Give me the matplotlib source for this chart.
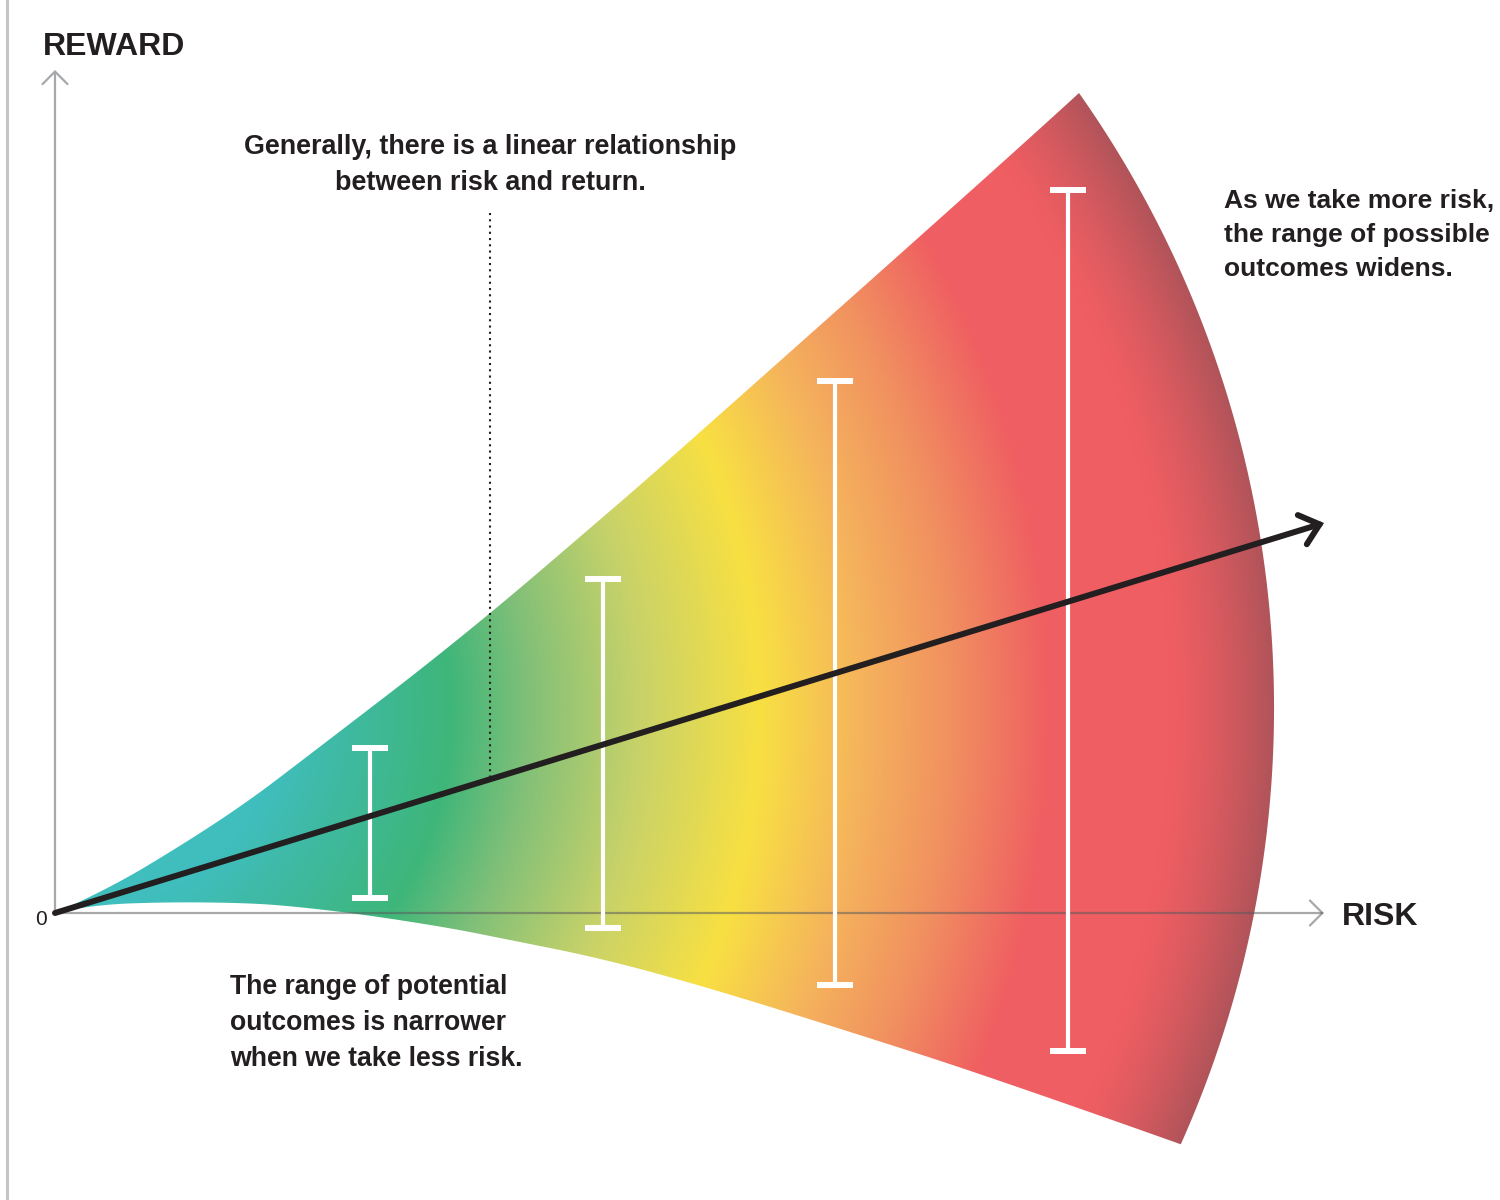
import numpy as np
import matplotlib
matplotlib.use("Agg")
import matplotlib.pyplot as plt
from matplotlib.patches import Polygon

# -------------------------------
# Data (risk / reward units)
# -------------------------------

# upper and lower edge of the fan of possible outcomes
upper_x = [0, 0.52, 1.35, 1.95, 2.45, 4.08, 5.68, 6.25, 9.62, 10.24]
upper_y = [0, 0.23, 0.73, 1.13, 1.51, 2.76, 4.13, 4.63, 7.63, 8.20]
lower_x = [0, 0.35, 1.12, 1.95, 2.45, 3.12, 3.95, 4.45, 5.45, 6.51, 7.80, 9.45, 11.25]
lower_y = [0, 0.08, 0.11, 0.10, 0.06, -0.02, -0.15, -0.25, -0.45, -0.74, -1.14, -1.67, -2.31]

# outer edge of the fan is an arc
arc_center = (1.52, 2.05)

# range bars
bar_x = [3.15, 5.48, 7.80, 10.13]
bar_low = [0.15, -0.15, -0.72, -1.38]
bar_high = [1.65, 3.34, 5.32, 7.23]

# linear risk / return line
trend_x = [0, 12.69]
trend_y = [0, 3.90]

# annotation pointer
note_x = 4.35
note_top = 7.00

axis_x_end = 12.69
axis_y_end = 8.43

# colour stops along the gradient (distance from gradient centre)
grad_center = (0.25, 2.03)
stop_d = [2.0, 2.6, 3.7, 4.5, 5.6, 6.8, 7.8, 8.7, 9.7, 13.0]
stop_rgb = [(64, 190, 190), (63, 186, 165), (62, 182, 122), (130, 192, 120),
            (200, 210, 105), (248, 224, 66), (245, 180, 92), (241, 145, 96),
            (239, 94, 98), (239, 94, 98)]
edge_rgb = (176, 84, 90)

TEXT = "#231f20"
GREY = "#a7a8ac"


def smooth(xs, ys, n=30):
    # quadratic B-spline through the midpoints
    p = np.column_stack([xs, ys]).astype(float)
    knots = [p[0]] + [(p[i] + p[i + 1]) / 2 for i in range(1, len(p) - 2)] + [p[-1]]
    t = np.linspace(0, 1, n)[:, None]
    out = []
    for i in range(1, len(p) - 1):
        a, c, b = knots[i - 1], p[i], knots[i]
        seg = (1 - t) ** 2 * a + 2 * (1 - t) * t * c + t ** 2 * b
        out.append(seg if i == 1 else seg[1:])
    return np.vstack(out)


# -------------------------------
# Figure
# -------------------------------

fig = plt.figure(figsize=(15, 12), dpi=100)
ax = fig.add_axes([0, 0, 1, 1])
ax.set_xlim(-0.55, 14.45)
ax.set_ylim(-2.87, 9.13)
ax.axis("off")

# fan outline
up = smooth(upper_x, upper_y)
lo = smooth(lower_x, lower_y)
cx, cy = arc_center
radius = np.hypot(up[-1, 0] - cx, up[-1, 1] - cy)
a0 = np.arctan2(up[-1, 1] - cy, up[-1, 0] - cx)
a1 = np.arctan2(lo[-1, 1] - cy, lo[-1, 0] - cx)
ang = np.linspace(a0, a1, 160)
arc = np.column_stack([cx + radius * np.cos(ang), cy + radius * np.sin(ang)])
outline = np.vstack([up, arc, lo[::-1]])
fan = Polygon(outline, closed=True, facecolor="none", edgecolor="none")
ax.add_patch(fan)

# gradient fill
gx = np.linspace(-0.1, 12.4, 1250)
gy = np.linspace(-2.5, 8.4, 1090)
X, Y = np.meshgrid(gx, gy)
d = np.hypot(X - grad_center[0], Y - grad_center[1])
stops = np.array(stop_rgb, dtype=float)
rgb = np.dstack([np.interp(d, stop_d, stops[:, k]) for k in range(3)])
edge_dist = radius - np.hypot(X - cx, Y - cy)
t = np.clip(1 - edge_dist / 1.05, 0, 1) ** 1.4
rgb = rgb * (1 - t[..., None]) + np.array(edge_rgb) * t[..., None]
img = ax.imshow(np.clip(rgb / 255, 0, 1), extent=[gx[0], gx[-1], gy[0], gy[-1]],
                origin="lower", interpolation="bilinear", aspect="auto", zorder=1)
img.set_clip_path(fan)

# page border on the left
ax.axvline(-0.48, color="#c5c5c9", lw=2.2, zorder=0)

# axes
ax.annotate("", xy=(axis_x_end, 0), xytext=(0, 0),
            arrowprops=dict(arrowstyle="->,head_length=0.45,head_width=0.45",
                            color="#59595d", alpha=0.52, lw=1.6,
                            mutation_scale=20, shrinkA=0, shrinkB=0),
            zorder=2)
ax.annotate("", xy=(0, axis_y_end), xytext=(0, 0),
            arrowprops=dict(arrowstyle="->,head_length=0.45,head_width=0.45",
                            color=GREY, lw=1.6, mutation_scale=20,
                            shrinkA=0, shrinkB=0),
            zorder=2)

# range bars
bar_x = np.array(bar_x)
bar_low = np.array(bar_low)
bar_high = np.array(bar_high)
mid = (bar_low + bar_high) / 2
half = (bar_high - bar_low) / 2
ax.errorbar(bar_x, mid, yerr=half, fmt="none", ecolor="white",
            elinewidth=3.0, capsize=13, capthick=4.3, zorder=3)

# dotted pointer
note_bottom = np.interp(note_x, trend_x, trend_y)
ax.plot([note_x, note_x], [note_top, note_bottom], color=TEXT, lw=1.5,
        linestyle=(0, (1, 2)), zorder=4)

# risk / return line
ax.annotate("", xy=(trend_x[1], trend_y[1]), xytext=(trend_x[0], trend_y[0]),
            arrowprops=dict(arrowstyle="->,head_length=0.65,head_width=0.55",
                            color=TEXT, lw=4.3, mutation_scale=20,
                            shrinkA=0, shrinkB=0, capstyle="round",
                            joinstyle="miter"),
            zorder=5)

# -------------------------------
# Text
# -------------------------------

font = ["Liberation Sans", "DejaVu Sans"]

ax.text(-0.12, 8.58, "REWARD", fontsize=23, fontweight="bold", color=TEXT,
        family=font, ha="left", va="baseline")
ax.text(12.87, -0.12, "RISK", fontsize=23, fontweight="bold", color=TEXT,
        family=font, ha="left", va="baseline")
ax.text(-0.08, -0.12, "0", fontsize=15, color=TEXT, family=font,
        ha="right", va="baseline")

# multi-line notes: y is the baseline of the last line
ax.text(note_x, 7.235, "Generally, there is a linear relationship\nbetween risk and return.",
        fontsize=19.4, fontweight="bold", color=TEXT, family=font,
        ha="center", va="baseline", multialignment="center", linespacing=1.5)
ax.text(11.69, 6.365, "As we take more risk,\nthe range of possible\noutcomes widens.",
        fontsize=19, fontweight="bold", color=TEXT, family=font,
        ha="left", va="baseline", linespacing=1.53)
ax.text(1.75, -1.535, "The range of potential\noutcomes is narrower\nwhen we take less risk.",
        fontsize=19.2, fontweight="bold", color=TEXT, family=font,
        ha="left", va="baseline", linespacing=1.52)

fig.savefig("out.png", dpi=100)
